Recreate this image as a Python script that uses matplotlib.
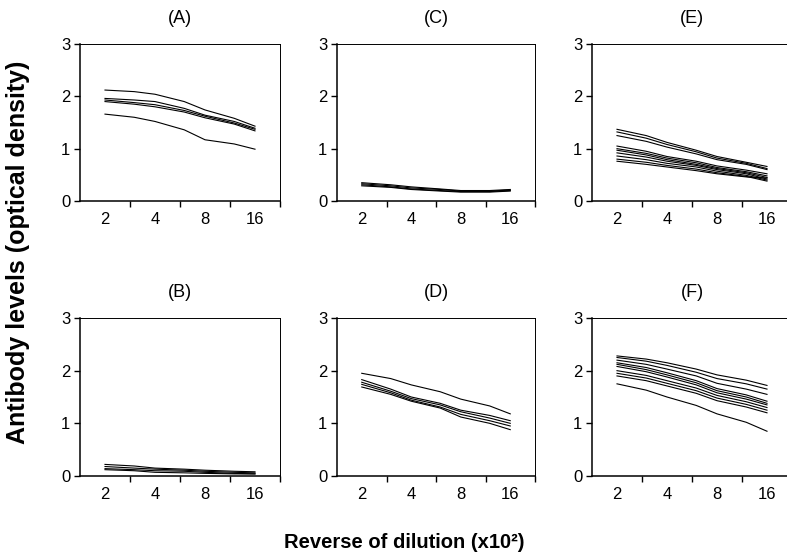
import numpy as np
import matplotlib
matplotlib.use("Agg")
import matplotlib.pyplot as plt

plt.rcParams['font.family'] = ['Liberation Sans', 'DejaVu Sans']

# dilution points (x10^2); labels shown only at 2, 4, 8, 16
dilutions = [2, 3, 4, 6, 8, 12, 16]
tick_labels = ['2', '4', '8', '16']

# optical density curves
panel_A = [
    [2.12, 2.09, 2.04, 1.90, 1.74, 1.58, 1.43],
    [1.96, 1.93, 1.90, 1.77, 1.64, 1.52, 1.39],
    [1.93, 1.88, 1.84, 1.73, 1.62, 1.49, 1.37],
    [1.90, 1.85, 1.80, 1.70, 1.59, 1.47, 1.34],
    [1.66, 1.60, 1.52, 1.36, 1.17, 1.09, 0.99],
]
panel_B = [
    [0.22, 0.19, 0.15, 0.13, 0.11, 0.09, 0.08],
    [0.18, 0.15, 0.13, 0.11, 0.09, 0.07, 0.06],
    [0.14, 0.12, 0.10, 0.09, 0.07, 0.05, 0.04],
    [0.12, 0.10, 0.07, 0.06, 0.05, 0.04, 0.04],
]
panel_C = [
    [0.35, 0.31, 0.27, 0.23, 0.20, 0.20, 0.22],
    [0.33, 0.29, 0.25, 0.22, 0.19, 0.19, 0.21],
    [0.31, 0.27, 0.23, 0.20, 0.18, 0.18, 0.20],
    [0.29, 0.26, 0.22, 0.19, 0.17, 0.17, 0.19],
]
panel_D = [
    [1.95, 1.85, 1.73, 1.60, 1.46, 1.33, 1.18],
    [1.83, 1.65, 1.50, 1.38, 1.25, 1.15, 1.05],
    [1.78, 1.61, 1.47, 1.35, 1.22, 1.10, 1.00],
    [1.74, 1.58, 1.44, 1.31, 1.17, 1.05, 0.95],
    [1.69, 1.55, 1.42, 1.29, 1.12, 1.00, 0.88],
]
panel_E = [
    [1.37, 1.25, 1.12, 0.97, 0.85, 0.74, 0.66],
    [1.32, 1.20, 1.08, 0.94, 0.82, 0.72, 0.62],
    [1.25, 1.14, 1.03, 0.90, 0.79, 0.70, 0.60],
    [1.05, 0.95, 0.85, 0.76, 0.67, 0.59, 0.52],
    [1.00, 0.91, 0.82, 0.73, 0.64, 0.56, 0.48],
    [0.97, 0.88, 0.79, 0.70, 0.62, 0.54, 0.45],
    [0.92, 0.84, 0.76, 0.68, 0.60, 0.52, 0.42],
    [0.86, 0.79, 0.72, 0.65, 0.57, 0.49, 0.40],
    [0.80, 0.74, 0.68, 0.61, 0.54, 0.47, 0.38],
    [0.76, 0.70, 0.65, 0.58, 0.52, 0.46, 0.44],
]
panel_F = [
    [2.28, 2.22, 2.15, 2.03, 1.92, 1.82, 1.72],
    [2.25, 2.18, 2.10, 1.97, 1.85, 1.75, 1.65],
    [2.20, 2.12, 2.03, 1.90, 1.76, 1.65, 1.55],
    [2.15, 2.06, 1.96, 1.81, 1.66, 1.54, 1.42],
    [2.12, 2.02, 1.92, 1.77, 1.62, 1.50, 1.38],
    [2.08, 1.98, 1.88, 1.73, 1.58, 1.46, 1.35],
    [2.00, 1.91, 1.81, 1.67, 1.53, 1.41, 1.30],
    [1.95, 1.86, 1.76, 1.62, 1.48, 1.36, 1.25],
    [1.90, 1.81, 1.71, 1.57, 1.43, 1.31, 1.20],
    [1.75, 1.63, 1.50, 1.34, 1.18, 1.02, 0.85],
]

panels = {'A': panel_A, 'B': panel_B, 'C': panel_C,
          'D': panel_D, 'E': panel_E, 'F': panel_F}

W, H = 787, 559
fig = plt.figure(figsize=(W / 100, H / 100), dpi=100)

# pixel boxes (left, right, top, bottom) for each panel
lefts = [80, 337, 592]
rights = [280, 535, 792]
tops = [44, 318]
bottoms = [201, 476]
order = [['A', 'C', 'E'], ['B', 'D', 'F']]

# category positions: log2 spacing, 2 -> 0, 16 -> 3
xpos = np.log2(dilutions) - 1

for r in range(2):
    for c in range(3):
        name = order[r][c]
        l, rr, t, b = lefts[c], rights[c], tops[r], bottoms[r]
        ax = fig.add_axes([l / W, 1 - b / H, (rr - l) / W, (b - t) / H])
        for curve in panels[name]:
            ax.plot(xpos, curve, color='black', lw=0.8)
        ax.set_xlim(-0.5, 3.5)
        ax.set_ylim(0, 3)
        ax.set_yticks([0, 1, 2, 3])
        ax.set_xticks([0, 1, 2, 3])
        ax.set_xticklabels(tick_labels)
        ax.set_xticks([0.5, 1.5, 2.5, 3.5], minor=True)
        ax.tick_params(axis='x', which='major', length=0, pad=8, labelsize=12)
        ax.tick_params(axis='x', which='minor', length=4, width=1, direction='out')
        ax.tick_params(axis='y', length=4, width=1, pad=3, labelsize=12)
        for s in ['top', 'right']:
            ax.spines[s].set_linewidth(0.7)
        for s in ['left', 'bottom']:
            ax.spines[s].set_linewidth(1.1)
        ax.set_title('(' + name + ')', fontsize=13, pad=15)

fig.text(18 / W, 1 - 252 / H, 'Antibody levels (optical density)', rotation=90,
         ha='center', va='center', fontsize=18, fontweight='bold')
fig.text(404 / W, 1 - 543 / H, 'Reverse of dilution (x10²)',
         ha='center', va='center', fontsize=14.5, fontweight='bold')

fig.savefig('out.png', dpi=100)
